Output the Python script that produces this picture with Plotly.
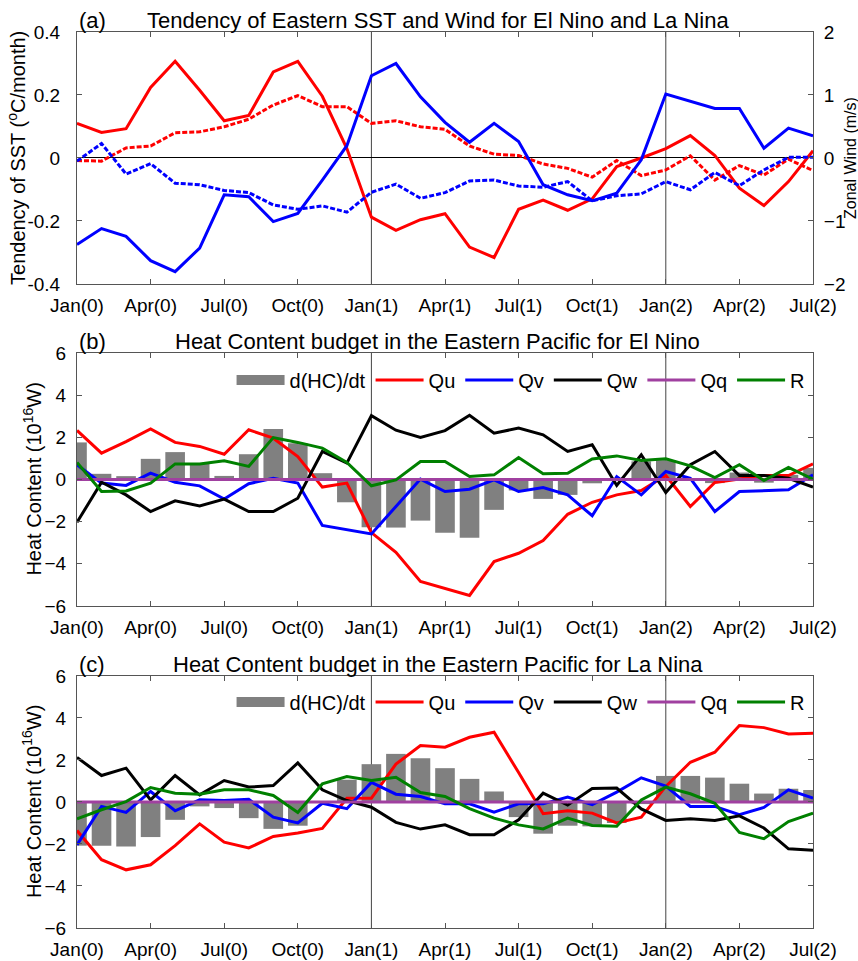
import plotly.graph_objects as go

# ---------------- data ----------------
months = list(range(31))
tick_vals = [0, 3, 6, 9, 12, 15, 18, 21, 24, 27, 30]
tick_text = ["Jan(0)", "Apr(0)", "Jul(0)", "Oct(0)", "Jan(1)", "Apr(1)",
             "Jul(1)", "Oct(1)", "Jan(2)", "Apr(2)", "Jul(2)"]

# (a) SST tendency (degC/month) and zonal wind (m/s)
sst_elnino = [0.11, 0.081, 0.093, 0.224, 0.307, 0.215, 0.118, 0.135, 0.273, 0.307,
              0.196, 0.03, -0.188, -0.23, -0.196, -0.177, -0.283, -0.316, -0.163, -0.134,
              -0.166, -0.13, -0.027, 0.0, 0.03, 0.071, 0.008, -0.096, -0.151, -0.075, 0.023]
sst_lanina = [-0.008, -0.01, 0.032, 0.038, 0.08, 0.083, 0.099, 0.123, 0.168, 0.198,
              0.163, 0.163, 0.11, 0.118, 0.099, 0.091, 0.038, 0.012, 0.008, -0.019,
              -0.033, -0.061, -0.008, -0.056, -0.038, 0.007, -0.07, -0.024, -0.054, -0.004, -0.04]
wind_elnino = [-1.375, -1.12, -1.245, -1.63, -1.805, -1.43, -0.585, -0.615, -1.01, -0.88,
               -0.35, 0.195, 1.305, 1.5, 0.97, 0.565, 0.25, 0.55, 0.26, -0.425,
               -0.585, -0.68, -0.56, -0.03, 1.015, 0.9, 0.785, 0.785, 0.155, 0.475, 0.35]
wind_lanina = [-0.05, 0.23, -0.255, -0.09, -0.4, -0.425, -0.515, -0.55, -0.745, -0.815,
               -0.76, -0.86, -0.545, -0.415, -0.64, -0.55, -0.365, -0.35, -0.445, -0.465,
               -0.375, -0.68, -0.6, -0.57, -0.375, -0.505, -0.23, -0.44, -0.19, 0.01, 0.01]

# (b) heat content budget, El Nino (1e16 W)
hc_b = [1.76, 0.27, 0.16, 0.98, 1.3, 0.78, 0.17, 1.2, 2.4, 1.72,
        0.3, -1.08, -2.27, -2.28, -1.95, -2.52, -2.76, -1.44, -0.52, -0.92,
        -0.73, -0.18, -0.05, 0.86, 0.92, 0.05, -0.17, 0.33, -0.15, 0.22, 0.55]
qu_b = [2.33, 1.25, 1.8, 2.4, 1.76, 1.57, 1.2, 2.36, 1.96, 1.09,
        -0.36, -0.17, -2.52, -3.45, -4.84, -5.16, -5.5, -3.89, -3.5, -2.9,
        -1.65, -1.08, -0.73, -0.52, 0.19, -1.28, -0.14, 0.02, 0.19, 0.19, 0.74]
qv_b = [0.7, -0.17, -0.28, 0.3, -0.13, -0.3, -0.93, -0.2, 0.06, -0.17,
        -2.18, -2.39, -2.58, -1.28, 0.02, -0.57, -0.46, -0.02, -0.57, -0.38,
        -0.73, -1.72, 0.14, -0.73, 0.38, 0.06, -1.52, -0.57, -0.52, -0.49, 0.22]
qw_b = [-2.03, -0.13, -0.73, -1.52, -1.01, -1.25, -0.93, -1.52, -1.52, -0.89,
        1.33, 0.78, 3.03, 2.34, 2.0, 2.32, 3.05, 2.2, 2.44, 2.12,
        1.33, 1.65, -0.28, 1.17, -0.62, 0.7, 1.33, 0.19, 0.19, 0.06, -0.36]
qq_b = [0.0, 0.0, 0.0, 0.0, 0.0, 0.0, 0.0, 0.0, 0.0, 0.0,
        0.0, 0.0, 0.0, 0.0, 0.0, 0.0, 0.0, 0.0, 0.0, 0.0,
        0.0, 0.0, 0.0, 0.0, 0.0, 0.0, 0.0, 0.0, 0.0, 0.0, 0.0]
r_b = [0.81, -0.57, -0.54, -0.17, 0.74, 0.74, 0.89, 0.62, 1.99, 1.76,
       1.49, 0.81, -0.3, -0.02, 0.85, 0.85, 0.14, 0.22, 1.04, 0.27,
       0.3, 0.97, 1.12, 0.9, 0.98, 0.65, 0.09, 0.7, -0.05, 0.57, 0.02]

# (c) heat content budget, La Nina (1e16 W)
hc_c = [-2.08, -2.08, -2.12, -1.67, -0.85, -0.21, -0.29, -0.77, -1.28, -1.13,
        0.0, 1.06, 1.8, 2.29, 2.08, 1.61, 1.1, 0.5, -0.72, -1.51,
        -1.13, -1.16, -1.0, -0.1, 1.24, 1.24, 1.16, 0.87, 0.4, 0.63, 0.57]
qu_c = [-1.36, -2.75, -3.23, -2.99, -2.08, -1.04, -1.91, -2.19, -1.64, -1.48,
        -1.26, 0.18, 0.18, 1.8, 2.69, 2.61, 3.08, 3.32, 1.4, -0.56,
        -0.42, -0.53, -1.0, -0.72, 0.74, 1.89, 2.37, 3.64, 3.54, 3.24, 3.27]
qv_c = [-2.04, -0.21, -0.5, 0.5, -0.42, 0.1, 0.07, 0.13, -0.72, -1.0,
        -0.06, -0.32, 0.93, 0.37, 0.26, -0.09, -0.09, -0.48, -0.09, -0.09,
        0.23, -0.13, 0.47, 1.15, 0.76, -0.21, -0.21, -0.61, -0.26, 0.58, 0.18]
qw_c = [2.12, 1.26, 1.61, 0.1, 1.26, 0.34, 1.02, 0.71, 0.78, 1.86,
        0.58, 0.07, -0.25, -0.97, -1.29, -1.09, -1.56, -1.56, -0.85, 0.42,
        -0.15, 0.64, 0.66, -0.33, -0.88, -0.8, -0.88, -0.66, -1.24, -2.23, -2.3]
qq_c = [0.0, 0.0, 0.0, 0.0, 0.0, 0.0, 0.0, 0.0, 0.0, 0.0,
        0.0, 0.0, 0.0, 0.0, 0.0, 0.0, 0.0, 0.0, 0.0, 0.0,
        0.0, 0.0, 0.0, 0.0, 0.0, 0.0, 0.0, 0.0, 0.0, 0.0, 0.0]
r_c = [-0.8, -0.37, 0.02, 0.69, 0.42, 0.37, 0.58, 0.58, 0.31, -0.5,
       0.86, 1.21, 1.02, 1.18, 0.45, 0.26, -0.32, -0.77, -1.09, -1.28,
       -0.77, -1.12, -1.16, 0.1, 0.71, 0.39, -0.06, -1.45, -1.75, -0.93, -0.53]

# ---------------- styling ----------------
FONT = "Liberation Sans, Arial, sans-serif"
RED, BLUE, BLACK, PURPLE, GREEN, GRAY = "#ff0000", "#0000ff", "#000000", "#a040a0", "#008000", "#808080"
FRAME = "#555555"
LW = 3

fig = go.Figure()

# panel (a)
fig.add_trace(go.Scatter(x=months, y=sst_elnino, mode="lines", line=dict(color=RED, width=LW),
                         xaxis="x", yaxis="y", showlegend=False))
fig.add_trace(go.Scatter(x=months, y=sst_lanina, mode="lines", line=dict(color=RED, width=LW, dash="5px,2px"),
                         xaxis="x", yaxis="y", showlegend=False))
fig.add_trace(go.Scatter(x=months, y=wind_elnino, mode="lines", line=dict(color=BLUE, width=LW),
                         xaxis="x", yaxis="y2", showlegend=False))
fig.add_trace(go.Scatter(x=months, y=wind_lanina, mode="lines", line=dict(color=BLUE, width=LW, dash="5px,2px"),
                         xaxis="x", yaxis="y2", showlegend=False))


def budget(xa, ya, leg, hc, qu, qv, qw, qq, r):
    fig.add_trace(go.Bar(x=months, y=hc, width=0.8, marker=dict(color=GRAY, line=dict(width=0)),
                         name="d(HC)/dt", xaxis=xa, yaxis=ya, showlegend=False))
    # wide grey key for the tendency bars
    fig.add_trace(go.Scatter(x=[None], y=[None], mode="lines", line=dict(color=GRAY, width=20),
                             name="d(HC)/dt", xaxis=xa, yaxis=ya, legend=leg))
    for vals, col, nm in [(qu, RED, "Qu"), (qv, BLUE, "Qv"), (qw, BLACK, "Qw"),
                          (qq, PURPLE, "Qq"), (r, GREEN, "R")]:
        fig.add_trace(go.Scatter(x=months, y=vals, mode="lines", line=dict(color=col, width=LW),
                                 name=nm, xaxis=xa, yaxis=ya, legend=leg))


budget("x2", "y3", "legend", hc_b, qu_b, qv_b, qw_b, qq_b, r_b)
budget("x3", "y4", "legend2", hc_c, qu_c, qv_c, qw_c, qq_c, r_c)

tickfont = dict(family=FONT, size=19, color="black")
xcommon = dict(range=[0, 30], tickvals=tick_vals, ticktext=tick_text, ticks="inside", ticklen=5,
               tickcolor=FRAME, showline=True, linecolor=FRAME, linewidth=1, mirror="ticks",
               showgrid=False, zeroline=False, tickfont=tickfont, ticklabelstandoff=4,
               automargin=False)
ycommon = dict(ticks="inside", ticklen=5, tickcolor=FRAME, showline=True, linecolor=FRAME,
               linewidth=1, showgrid=False, tickfont=tickfont, ticklabelstandoff=12,
               automargin=False)

dom_a, dom_b, dom_c = [0.7188, 1.0], [0.3594, 0.6417], [0.0, 0.2813]

fig.update_layout(
    width=858, height=961,
    margin=dict(l=77, r=45, t=32, b=33, autoexpand=False),
    plot_bgcolor="white", paper_bgcolor="white",
    font=dict(family=FONT, color="black"),
    barmode="overlay",
    xaxis=dict(xcommon, domain=[0, 1], anchor="y"),
    xaxis2=dict(xcommon, domain=[0, 1], anchor="y3"),
    xaxis3=dict(xcommon, domain=[0, 1], anchor="y4"),
    yaxis=dict(ycommon, domain=dom_a, anchor="x", range=[-0.4, 0.4],
               tickvals=[-0.4, -0.2, 0, 0.2, 0.4], ticktext=["-0.4", "-0.2", "0", "0.2", "0.4"],
               mirror=True, zeroline=True, zerolinecolor="black", zerolinewidth=1),
    yaxis2=dict(ycommon, domain=dom_a, anchor="x", overlaying="y", side="right", range=[-2, 2],
                tickvals=[-2, -1, 0, 1, 2], zeroline=False, ticklabelstandoff=6),
    yaxis3=dict(ycommon, domain=dom_b, anchor="x2", range=[-6, 6], tickvals=[-6, -4, -2, 0, 2, 4, 6],
                mirror="ticks", zeroline=False, ticklabelstandoff=6),
    yaxis4=dict(ycommon, domain=dom_c, anchor="x3", range=[-6, 6], tickvals=[-6, -4, -2, 0, 2, 4, 6],
                mirror="ticks", zeroline=False, ticklabelstandoff=6),
    legend=dict(orientation="h", x=0.21, y=0.6116, xanchor="left", yanchor="middle",
                bgcolor="rgba(0,0,0,0)", font=dict(family=FONT, size=20), itemwidth=48,
                itemclick=False),
    legend2=dict(orientation="h", x=0.21, y=0.2522, xanchor="left", yanchor="middle",
                 bgcolor="rgba(0,0,0,0)", font=dict(family=FONT, size=20), itemwidth=48,
                 itemclick=False),
)

# year separators at Jan(1) and Jan(2)
for xa, ya in [("x", "y"), ("x2", "y3"), ("x3", "y4")]:
    for m in (12, 24):
        fig.add_shape(type="line", xref=xa, yref=f"{ya} domain", x0=m, x1=m, y0=0, y1=1,
                      line=dict(color="#444444", width=1), layer="below")

# panel labels and titles
titles = [("y", "(a)", "Tendency of Eastern SST and Wind for El Nino and La Nina"),
          ("y3", "(b)", "Heat Content budget in the Eastern Pacific for El Nino"),
          ("y4", "(c)", "Heat Content budget in the Eastern Pacific for La Nina")]
for ya, lab, txt in titles:
    fig.add_annotation(xref="paper", yref=f"{ya} domain", x=0, y=1, xanchor="left", yanchor="bottom",
                       text=lab, showarrow=False, font=dict(family=FONT, size=22), yshift=-3)
    fig.add_annotation(xref="paper", yref=f"{ya} domain", x=0.49, y=1, xanchor="center", yanchor="bottom",
                       text=txt, showarrow=False, font=dict(family=FONT, size=22), yshift=-3)

# axis titles
axis_titles = [("y", -0.0815, "Tendency of SST (<sup>o</sup>C/month)", 20),
               ("y", 1.0516, "Zonal Wind (m/s)", 16),
               ("y3", -0.061, "Heat Content (10<sup>16</sup>W)", 20),
               ("y4", -0.061, "Heat Content (10<sup>16</sup>W)", 20)]
for ya, xpos, txt, size in axis_titles:
    fig.add_annotation(xref="paper", yref=f"{ya} domain", x=xpos, y=0.5, xanchor="center",
                       yanchor="middle", text=txt, textangle=-90, showarrow=False,
                       font=dict(family=FONT, size=size))

fig.write_html("out.html")
